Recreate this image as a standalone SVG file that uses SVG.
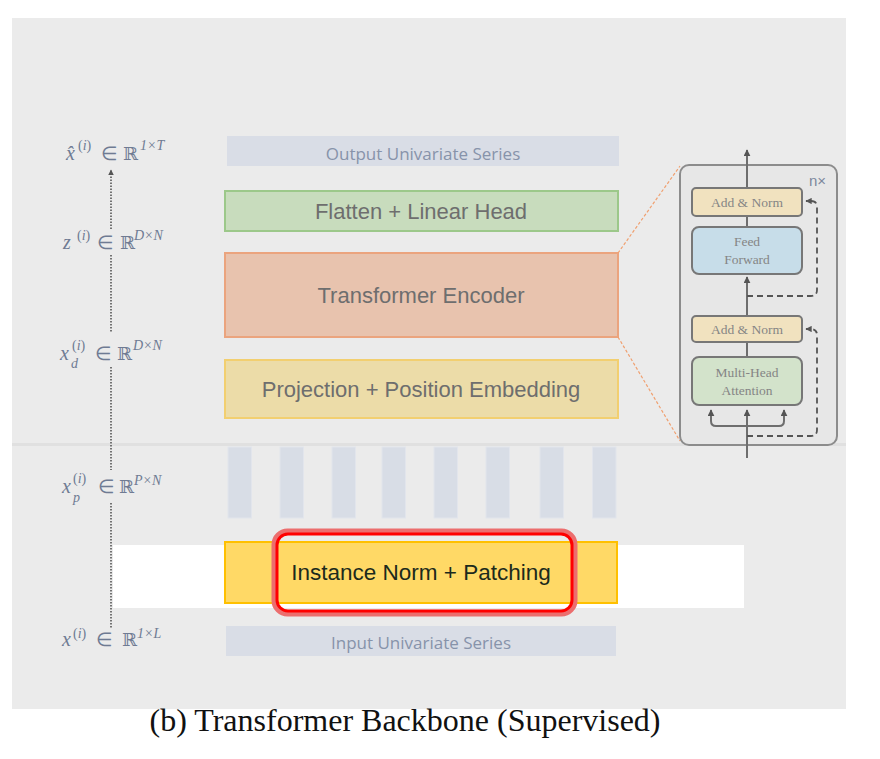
<svg xmlns="http://www.w3.org/2000/svg" width="880" height="759" viewBox="0 0 880 759">
<style>
.layer{font-family:"Liberation Sans",Arial,sans-serif;font-size:22px;fill:#6e6e6e;text-anchor:middle}
.series{font-family:"Open Sans","Liberation Sans",sans-serif;font-size:17px;fill:#8793aa;text-anchor:middle}
.math{font-family:"Liberation Serif","DejaVu Serif",serif;font-size:20px;fill:#6f7b93}
.sym{font-family:"DejaVu Serif","Liberation Serif",serif;font-size:18px;fill:#6f7b93}
.elem{font-family:"DejaVu Sans","Liberation Serif",serif;font-size:19px;fill:#6f7b93}
.sup{font-family:"Liberation Serif","DejaVu Serif",serif;font-size:14px;fill:#6f7b93}
.it{font-style:italic}
.blk{font-family:"Liberation Serif","DejaVu Serif",serif;font-size:13.5px;fill:#858585;text-anchor:middle}
.box{stroke:#777;stroke-width:2}
.dot{stroke:#555;stroke-width:1.6;stroke-dasharray:1.6 1.4;fill:none}
.flow{stroke:#6e6e6e;stroke-width:2;fill:none}
.dash{stroke:#555;stroke-width:1.8;stroke-dasharray:6 4;fill:none}
.patch{fill:#d8dde6;stroke:#e2e5ec;stroke-width:1}
</style>
<defs>
<marker id="ah" viewBox="0 0 10 10" refX="9" refY="5" markerWidth="3.5" markerHeight="3.5" orient="auto-start-reverse">
<path d="M0,0 L10,5 L0,10 z" fill="#555"/>
</marker>
</defs>
<rect width="880" height="759" fill="#fff"/>
<rect x="12" y="18" width="834" height="691" fill="#ebebeb"/>
<rect x="12" y="443" width="834" height="3" fill="#e0e0e0"/>
<rect x="113" y="545" width="631" height="63" fill="#fff"/>

<g id="output">
<rect x="227" y="136" width="392" height="30" fill="#d9dde6"/>
<text class="series" x="423" y="160">Output Univariate Series</text>
</g>
<g id="flatten">
<rect x="225" y="191" width="393" height="40" fill="#c8dcbd" stroke="#9cc88a" stroke-width="2"/>
<text class="layer" x="421" y="219">Flatten + Linear Head</text>
</g>
<g id="encoder">
<rect x="225" y="253" width="393" height="84" fill="#e8c3ae" stroke="#eba47e" stroke-width="2"/>
<text class="layer" x="421" y="303">Transformer Encoder</text>
</g>
<g id="projection">
<rect x="225" y="360" width="393" height="58" fill="#ecdca8" stroke="#f2cf70" stroke-width="2"/>
<text class="layer" x="421" y="397">Projection + Position Embedding</text>
</g>
<g id="patches">
<rect class="patch" x="228" y="447" width="23.5" height="71"/>
<rect class="patch" x="280" y="447" width="23.5" height="71"/>
<rect class="patch" x="332" y="447" width="23.5" height="71"/>
<rect class="patch" x="382" y="447" width="23.5" height="71"/>
<rect class="patch" x="434" y="447" width="23.5" height="71"/>
<rect class="patch" x="486" y="447" width="23.5" height="71"/>
<rect class="patch" x="540" y="447" width="23.5" height="71"/>
<rect class="patch" x="592.5" y="447" width="23.5" height="71"/>
</g>
<g id="instnorm">
<rect x="225" y="542" width="392" height="61" fill="#ffd966" stroke="#ffc000" stroke-width="2"/>
<text x="421" y="580" font-family="Liberation Sans,Arial,sans-serif" font-size="22.5" fill="#1c2a1c" text-anchor="middle">Instance Norm + Patching</text>
<rect x="274.5" y="531.5" width="300" height="82" rx="13" fill="none" stroke="#ec6e6e" stroke-width="6"/>
<rect x="277" y="534" width="295" height="77" rx="11" fill="none" stroke="#ff0000" stroke-width="3"/>
</g>
<g id="input">
<rect x="226" y="626" width="390" height="30" fill="#d9dde6"/>
<text class="series" x="421" y="649">Input Univariate Series</text>
</g>

<g id="labels">
<text class="math it" x="66" y="160">x̂</text><text class="sup" x="78" y="150">(<tspan class="it">i</tspan>)</text><text class="elem" x="101" y="160">∈</text><text class="sym" x="123" y="160">ℝ</text><text class="sup it" x="140" y="150">1×T</text>
<text class="math it" x="63" y="249">z</text><text class="sup" x="77" y="240">(<tspan class="it">i</tspan>)</text><text class="elem" x="97" y="249">∈</text><text class="sym" x="120" y="249">ℝ</text><text class="sup it" x="134" y="240">D×N</text>
<text class="math it" x="60" y="360">x</text><text class="sup" x="72" y="350">(<tspan class="it">i</tspan>)</text><text class="sup it" x="71" y="368">d</text><text class="elem" x="95" y="360">∈</text><text class="sym" x="117" y="360">ℝ</text><text class="sup it" x="133" y="350">D×N</text>
<text class="math it" x="62" y="493">x</text><text class="sup" x="73" y="483">(<tspan class="it">i</tspan>)</text><text class="sup it" x="73" y="502">p</text><text class="elem" x="98" y="493">∈</text><text class="sym" x="119" y="493">ℝ</text><text class="sup it" x="134" y="485">P×N</text>
<text class="math it" x="62" y="646">x</text><text class="sup" x="73" y="638">(<tspan class="it">i</tspan>)</text><text class="elem" x="96" y="646">∈</text><text class="sym" x="122" y="646">ℝ</text><text class="sup it" x="137" y="638">1×L</text>
</g>

<g id="detail">
<rect x="680" y="165" width="157" height="280" rx="9" fill="#e7e7e7" stroke="#8c8c8c" stroke-width="2"/>
<text x="809" y="186" font-family="Liberation Sans,Arial,sans-serif" font-size="15" fill="#7d889d">n×</text>
</g>

<g id="connectors">
<path class="dot" d="M111,229 V170" marker-end="url(#ah)"/>
<path class="dot" d="M111,255 V333"/>
<path class="dot" d="M111,367 V470"/>
<path class="dot" d="M111,503 V628"/>
<path d="M618,253 L680,166" stroke="#f0a070" stroke-width="1.2" stroke-dasharray="3 2" fill="none"/>
<path d="M618,337 L680,441" stroke="#f0a070" stroke-width="1.2" stroke-dasharray="3 2" fill="none"/>
<path class="flow" d="M747,458 V410" marker-end="url(#ah)"/>
<path class="flow" d="M747,426 H716 Q711,426 711,421 V410" marker-end="url(#ah)"/>
<path class="flow" d="M747,426 H779 Q784,426 784,421 V410" marker-end="url(#ah)"/>
<path class="flow" d="M747,357 V342"/>
<path class="flow" d="M747,316 V277" marker-end="url(#ah)"/>
<path class="flow" d="M747,227 V216"/>
<path class="flow" d="M747,188 V150" marker-end="url(#ah)"/>
<path class="dash" d="M747,436 H811 Q817,436 817,430 V335 Q817,329 811,329 H806" marker-end="url(#ah)"/>
<path class="dash" d="M747,296 H811 Q817,296 817,290 V207 Q817,201 811,201 H806" marker-end="url(#ah)"/>
</g>

<g id="addnorm2">
<rect class="box" x="692" y="316" width="110" height="26" rx="4" fill="#f1e2bf"/>
<text class="blk" x="747" y="334">Add &amp; Norm</text>
</g>
<g id="mha">
<rect class="box" x="692" y="357" width="110" height="48" rx="7" fill="#d3e3cb"/>
<text class="blk" x="747" y="377">Multi-Head</text>
<text class="blk" x="747" y="395">Attention</text>
</g>
<g id="addnorm1">
<rect class="box" x="692" y="188" width="110" height="28" rx="4" fill="#f1e2bf"/>
<text class="blk" x="747" y="207">Add &amp; Norm</text>
</g>
<g id="ff">
<rect class="box" x="692" y="227" width="110" height="47" rx="7" fill="#c7dde9"/>
<text class="blk" x="747" y="246">Feed</text>
<text class="blk" x="747" y="264">Forward</text>
</g>

<text x="405" y="731" font-family="Liberation Serif,Times New Roman,serif" font-size="32" fill="#111" text-anchor="middle">(b) Transformer Backbone (Supervised)</text>
</svg>
